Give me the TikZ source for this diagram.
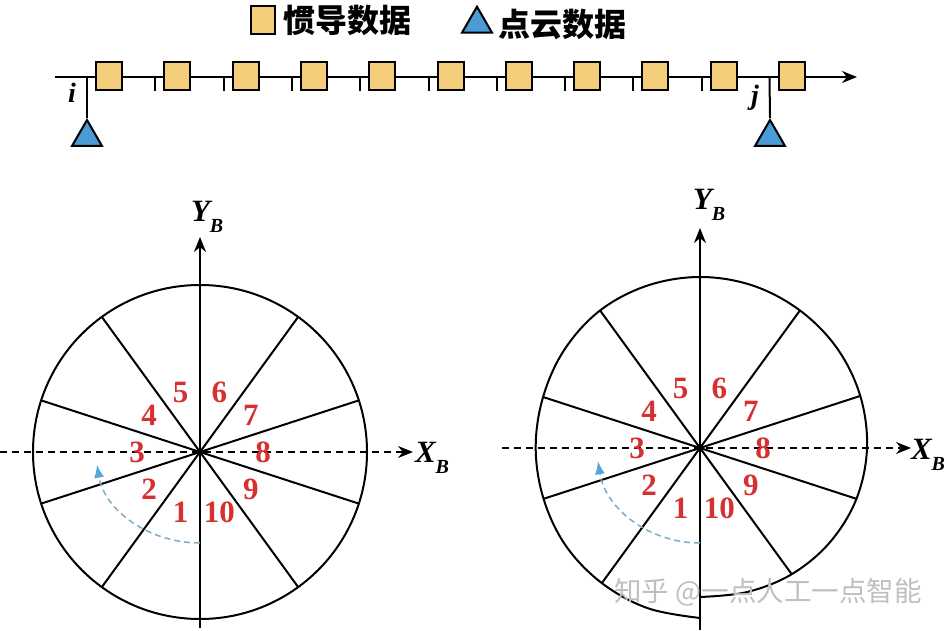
\documentclass[tikz,border=0pt]{standalone}
\usepackage{fontspec}
\setmainfont{Liberation Serif}
\newfontfamily\cjk{Noto Sans CJK SC}
\usetikzlibrary{arrows.meta,positioning,shapes.geometric,calc}
\definecolor{imufill}{RGB}{244,205,122}
\definecolor{pcfill}{RGB}{74,156,214}
\definecolor{secred}{RGB}{214,48,49}
\definecolor{rotblue}{RGB}{125,172,196}
\definecolor{rotarrow}{RGB}{85,165,220}
\newcommand{\axsub}[1]{\raisebox{-11pt}{\fontsize{20}{20}\selectfont #1}}

\begin{document}
\begin{tikzpicture}[
    x=1pt, y=1pt,
    line width=2pt,
    imu/.style={draw, fill=imufill, minimum width=26pt, minimum height=28pt, inner sep=0pt},
    pc/.style={draw, fill=pcfill, regular polygon, regular polygon sides=3,
               minimum size=34.6pt, inner sep=0pt},
    legtext/.style={font=\cjk\bfseries\fontsize{32}{32}\selectfont, inner sep=0pt},
    sector/.style={text=secred, font=\bfseries\fontsize{31}{31}\selectfont, inner sep=0pt},
    axlabel/.style={font=\bfseries\itshape\fontsize{31}{31}\selectfont, inner sep=0pt, anchor=base west},
    timelab/.style={font=\bfseries\itshape\fontsize{28}{28}\selectfont, inner sep=0pt},
    axis/.style={-{Stealth[length=15pt, width=12pt]}},
    dashaxis/.style={axis, line width=1.7pt, dash pattern=on 7pt off 5pt},
    rot/.style={rotblue, line width=1.5pt, dash pattern=on 6pt off 4pt,
                -{Latex[length=13pt, width=10pt, color=rotarrow, fill=rotarrow]}}
  ]
    \useasboundingbox (0,0) rectangle (947,631);

    % Legend
    \node[imu, minimum width=24pt] (legimu) at (263,611) {};
    \node[legtext, right=6pt of legimu] (legimutext) {惯导数据};
    \node[pc] (legpc) at (477,607) {};
    \node[legtext, right=9pt of legpc] (legpctext) {点云数据};

    % Time line
    \coordinate (tl-start) at (55,554);
    \coordinate (tl-end) at (857,554);
    \draw[axis] (tl-start) -- (tl-end);
    \foreach \k in {1,...,9} {
      \coordinate (tick\k) at (87+68.3*\k,554);
      \draw (tick\k) -- ++(0,-14);
    }
    \foreach \k in {0,...,10}
      \node[imu] (imu\k) at (109+68.3*\k,555) {};

    % Point cloud frames
    \coordinate (ti) at (87,554);
    \coordinate (tj) at (769.5,554);
    \node[pc] (pci) at (87,493.7) {};
    \node[pc] (pcj) at (770,493.7) {};
    \draw (ti) -- (pci.corner 1);
    \draw (tj) -- (pcj.corner 1);
    \node[timelab] (labi) at (72,538) {i};
    \node[timelab] (labj) at (755,533) {j};

    % Left scan (undistorted)
    \coordinate (cl) at (200,179);
    \draw (cl) circle[radius=167];
    \foreach \a in {18,54,126,162}
      \draw ($(cl)+(\a:167)$) -- ($(cl)+(\a+180:167)$);
    \coordinate (cl-ybot) at (200,3);
    \coordinate (cl-ytop) at (200,394);
    \coordinate (cl-xl) at (0,179);
    \coordinate (cl-xr) at (413,179);
    \draw[axis] (cl-ybot) -- (cl-ytop);
    \draw[dashaxis] (cl-xl) -- (cl-xr);
    \node[axlabel] (cl-xlab) at (414,168) {X\axsub{B}};
    \node[axlabel] (cl-ylab) at (190,409) {Y\axsub{B}};
    \foreach \n [evaluate=\n as \ang using 288-36*\n] in {1,...,10}
      \node[sector] (cl-s\n) at ($(cl)+(\ang:63)$) {\n};
    \draw[rot] ($(cl)+(0,-91)$) arc[start angle=-90, end angle=-172, x radius=104, y radius=91];

    % Right scan (distorted)
    \coordinate (cr) at (700,183);
    \begin{scope}[shift={(cr)}]
      \draw plot[smooth, tension=0.6] coordinates {
        (-90:149) (-72:151.5) (-54:156) (-36:160.5) (-18:164.5) (0:167)
        (18:168.5) (36:169.5) (54:170) (72:170.8) (90:171) (108:170.7)
        (126:170) (144:167.5) (162:165) (180:164.3) (198:164.5) (216:166)
        (234:167) (252:168.5) (270:170)};
      \coordinate (r18) at (18:168.5);
      \coordinate (r54) at (54:170);
      \coordinate (r126) at (126:170);
      \coordinate (r162) at (162:165);
      \coordinate (r198) at (198:164.5);
      \coordinate (r234) at (234:167);
      \coordinate (r306) at (306:156);
      \coordinate (r342) at (342:164.5);
    \end{scope}
    \draw (r18) -- (r198);
    \draw (r54) -- (r234);
    \draw (r126) -- (r306);
    \draw (r162) -- (r342);
    \coordinate (cr-ybot) at (700,1);
    \coordinate (cr-ytop) at (700,403);
    \coordinate (cr-xl) at (502,183);
    \coordinate (cr-xr) at (911,183);
    \draw[axis] (cr-ybot) -- (cr-ytop);
    \draw[dashaxis] (cr-xl) -- (cr-xr);
    \node[axlabel] (cr-xlab) at (910,171) {X\axsub{B}};
    \node[axlabel] (cr-ylab) at (692,421) {Y\axsub{B}};
    \foreach \n [evaluate=\n as \ang using 288-36*\n] in {1,...,10}
      \node[sector] (cr-s\n) at ($(cr)+(\ang:63)$) {\n};
    \draw[rot] ($(cr)+(0,-95)$) arc[start angle=-90, end angle=-172, x radius=103, y radius=95];

    % Watermark
    \node[font=\cjk\fontsize{27.5}{27.5}\selectfont, text=black!25] (wm) at (768,39) {知乎 @一点人工一点智能};
  \end{tikzpicture}
\end{document}
